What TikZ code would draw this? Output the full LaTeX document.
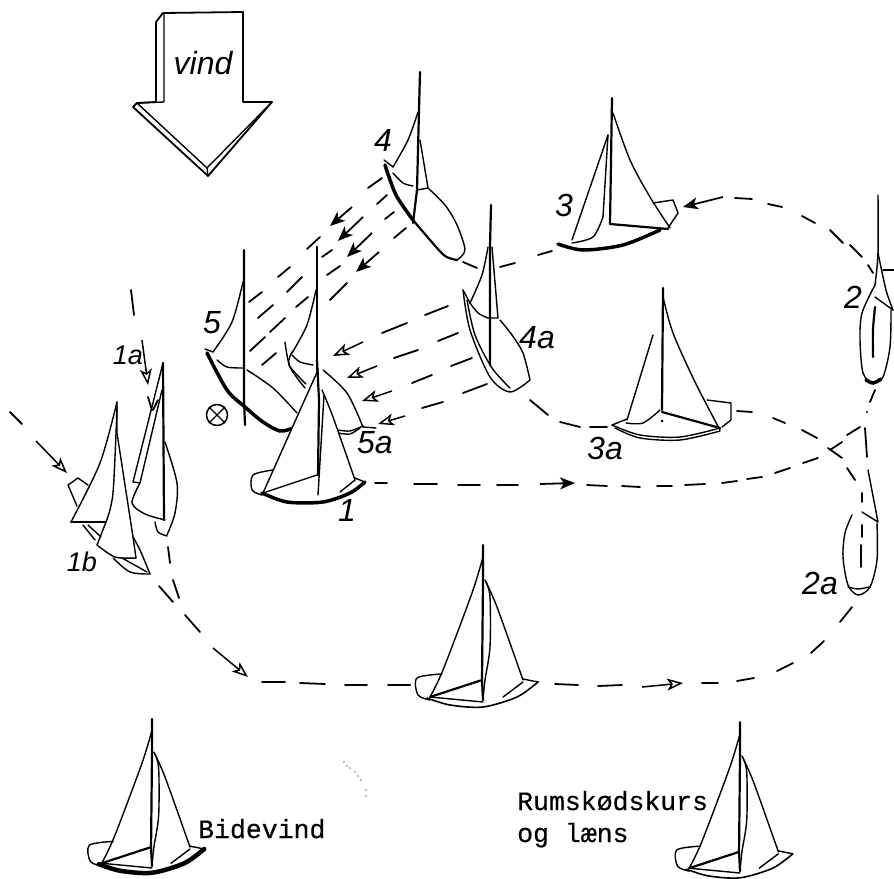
\documentclass[tikz,border=0pt]{standalone}
\usepackage{fontspec}
\usetikzlibrary{arrows.meta}
\newfontfamily\labelfont{Liberation Sans}
\newfontfamily\typefont[FakeBold=0.4]{Liberation Mono}
\tikzset{
  sailline/.style={line width=1.4pt, line join=round, line cap=round},
  hullline/.style={line width=3.5pt, line cap=round},
  mastline/.style={line width=2.2pt, line cap=round},
  dashline/.style={line width=1.8pt, line cap=round},
  windarrow/.style={line width=1.8pt, -{Stealth[length=15pt,width=12pt,inset=4pt]}},
  openarrow/.style={line width=1.5pt, -{Stealth[open,fill=white,length=16pt,width=12pt,inset=4pt]}},
  boatlabel/.style={font=\labelfont\itshape\fontsize{32}{32}\selectfont, inner sep=0pt},
  smalllabel/.style={font=\labelfont\itshape\fontsize{27}{27}\selectfont, inner sep=0pt},
  typelabel/.style={font=\typefont\fontsize{26.5}{26.5}\selectfont, inner sep=0pt, anchor=base west}
}
\begin{document}
\begin{tikzpicture}[x=1pt,y=-1pt]
  \useasboundingbox (0,0) rectangle (894,878);
  % the wind arrow
  \draw[line width=1.8pt, line join=round] (163,13) -- (243,12) -- (243,102) -- (272,102) -- (208,176)
    -- (133,107) -- (137,103) -- (156,102) -- (156,22) -- cycle;
  \draw[sailline] (164,14) -- (164,102) -- (137,103) -- (207,168) -- (272,102);
  \draw[sailline] (207,168) -- (208,176);
  \node[boatlabel] (vind) at (203,63) {vind};
  % the course, piece by piece
  \foreach \xa/\ya/\xb/\yb in {
    382/178/368/188, 320/237/307/249, 290/267/278/277, 262/292/249/302,
    387/195/377/204, 332/250/322/257, 302/277/287/292, 273/305/258/318,
    394/212/385/219, 340/266/327/275, 308/297/296/307, 285/318/270/332, 265/337/250/351,
    406/228/394/238, 347/283/330/300, 276/353/262/365,
    448/306/425/315, 407/323/382/333,
    458/333/438/341, 418/350/394/358,
    472/358/451/366, 432/375/412/383,
    487/384/463/393, 443/402/422/408,
    463/262/477/268, 500/267/515/263, 538/255/552/251,
    735/198/752/199, 768/204/782/207, 802/216/815/223, 830/230/843/243, 850/245/862/257, 868/265/873/273,
    530/400/548/415, 560/422/580/427, 590/427/607/427,
    737/411/752/412, 773/418/785/423, 802/430/817/438, 828/448/842/458, 847/468/855/480,
    862/493/862/502, 862/525/862/537, 861/545/861/567, 865/428/867/457,
    375/483/387/483, 414/484/437/484, 458/485/480/485, 497/485/518/485,
    587/485/607/486, 622/486/640/487, 657/486/672/486, 685/485/705/484, 722/483/737/481,
    747/479/762/477, 775/473/790/468, 803/463/818/458, 830/450/842/442, 847/435/860/427, 870/402/875/390,
    852/607/840/622, 824/641/811/653, 793/663/777/671, 754/678/737/681, 718/683/702/683,
    622/685/598/686, 578/685/555/684, 410/685/400/685,
    262/682/285/682, 300/683/325/684, 345/685/367/685, 388/685/410/685,
    10/412/22/424, 131/290/134/315, 148/397/152/410, 153/410/158/400,
    168/547/170/563, 173/580/179/598, 159/586/173/602, 185/615/200/632}
  \draw[dashline] (\xa,\ya) -- (\xb,\yb);
  \fill (867,412) circle (1.2);
  % arrows on the course
  \foreach \xa/\ya/\xb/\yb in {352/207/330/226, 363/217/338/241, 372/233/347/257, 379/252/356/272,
    723/197/683/207, 540/484/575/483}
  \draw[windarrow] (\xa,\ya) -- (\xb,\yb);
  \foreach \xa/\ya/\xb/\yb in {363/342/333/356, 377/366/347/378, 392/391/362/401, 405/416/378/424,
    36/441/67/473, 142/340/148/385, 213/648/248/677, 642/687/683/683}
  \draw[openarrow] (\xa,\ya) -- (\xb,\yb);
  % boat 4
  \draw[mastline] (420,72) -- (419,110) -- (417,190) -- (413,223);
  \draw[sailline] plot[smooth] coordinates {(418,112) (408,140) (393,167)};
  \draw[sailline] (384,160) -- (393,167);
  \draw[sailline] plot[smooth] coordinates {(393,173) (403,183) (413,186)};
  \draw[sailline] (420,140) -- (428,188) -- (417,190);
  \draw[hullline] plot[smooth] coordinates {(385,165) (396,195) (413,220)};
  \draw[mastline] plot[smooth] coordinates {(413,220) (430,240) (445,256) (457,260)};
  \draw[sailline] plot[smooth] coordinates {(457,260) (465,250) (457,225) (445,205) (428,188)};
  \node[boatlabel] (nfour) at (383,140) {4};
  % boat 4a
  \draw[mastline] (491,205) -- (490,247) -- (490,365);
  \draw[sailline] plot[smooth] coordinates {(488,247) (482,275) (470,303)};
  \draw[sailline] (463,290) -- (470,303);
  \draw[sailline] plot[smooth] coordinates {(470,303) (478,313) (488,318)};
  \draw[sailline] (492,247) -- (498,318) -- (488,318);
  \draw[sailline] plot[smooth] coordinates {(463,290) (470,330) (490,377) (510,392) (530,380)};
  \draw[sailline] plot[smooth] coordinates {(467,300) (475,335) (492,368) (510,388)};
  \draw[sailline] plot[smooth] coordinates {(530,380) (523,353) (512,335) (500,320)};
  \node[boatlabel] (nfoura) at (537,338) {4a};
  % boat 5
  \draw[mastline] (244,250) -- (244,400) -- (245,425);
  \draw[sailline] plot[smooth] coordinates {(243,282) (232,322) (213,352)};
  \draw[sailline] (205,349) -- (213,352);
  \draw[sailline] plot[smooth] coordinates {(217,360) (227,367) (243,368)};
  \draw[hullline] plot[smooth] coordinates {(207,353) (227,390) (245,407) (263,422) (280,431) (293,428)};
  \draw[sailline] plot[smooth] coordinates {(247,370) (273,388) (297,413)};
  \node[boatlabel] (nfive) at (212,323) {5};
  \node[circle, draw, line width=1.5pt, minimum size=21pt, inner sep=0pt] (windsign) at (217,415) {};
  \draw[sailline] (windsign.45) -- (windsign.225);
  \draw[sailline] (windsign.135) -- (windsign.315);
  % boat 5a
  \draw[mastline] (317,247) -- (317,370);
  \draw[sailline] plot[smooth] coordinates {(316,290) (307,325) (292,353)};
  \draw[sailline] plot[smooth] coordinates {(285,342) (290,367) (305,388)};
  \draw[sailline] plot[smooth] coordinates {(292,352) (289,365) (306,384)};
  \draw[sailline] plot[smooth] coordinates {(292,355) (300,362) (313,365)};
  \draw[sailline] plot[smooth] coordinates {(323,370) (347,393) (363,427)};
  \draw[sailline] plot[smooth] coordinates {(338,433) (350,434) (360,428)};
  \draw[sailline] plot[smooth] coordinates {(338,430) (350,431) (363,426)};
  \draw[sailline] (363,427) -- (376,428);
  \node[boatlabel] (nfivea) at (375,443) {5a};
  % boat 1
  \fill[white] (318,370) -- (263,493) -- (355,480) -- (333,417) -- cycle;
  \draw[mastline] (317,360) -- (319,400) -- (318,475);
  \draw[sailline] (318,370) -- (263,493) -- (317,475);
  \draw[sailline] plot[smooth] coordinates {(322,390) (333,417) (355,480)};
  \draw[sailline] (324,395) -- (318,495);
  \draw[sailline] (355,480) -- (340,492);
  \draw[sailline] (355,478) -- (365,482);
  \draw[sailline] plot[smooth] coordinates {(273,470) (253,475) (252,490) (262,495)};
  \draw[hullline] plot[smooth] coordinates {(262,493) (287,502) (323,502) (350,493) (365,482)};
  \node[boatlabel] (none) at (347,510) {1};
  % boat 3
  \fill[white] (608,135) -- (572,240) -- (668,229) -- (630,160) -- (613,113) -- cycle;
  \draw[mastline] (612,98) -- (610,224);
  \draw[sailline] (608,135) -- (572,240);
  \draw[sailline] plot[smooth] coordinates {(613,113) (630,160) (650,197) (670,228)};
  \draw[mastline] (610,224) -- (668,229);
  \draw[sailline] plot[smooth] coordinates {(572,243) (593,237) (603,217)};
  \draw[sailline] (603,217) -- (608,135);
  \draw[sailline] (653,203) -- (673,200) -- (678,213) -- (668,228);
  \draw[hullline] plot[smooth] coordinates {(558,244) (583,250) (623,245) (660,230)};
  \node[boatlabel] (nthree) at (564,205) {3};
  % boat 2
  \draw[sailline] plot[smooth] coordinates {(878,195) (878,253) (875,285)};
  \draw[sailline] plot[smooth] coordinates {(878,253) (886,290) (893,310)};
  \draw[sailline] (883,270) -- (894,270);
  \draw[sailline] (875,297) -- (893,310);
  \draw[sailline] plot[smooth] coordinates {(875,285) (862,313) (860,340) (863,373) (873,383) (883,377) (890,347) (891,310)};
  \draw[hullline] plot[smooth] coordinates {(866,380) (873,383) (881,379)};
  \draw[mastline] plot[smooth] coordinates {(875,307) (873,330) (873,357)};
  \node[boatlabel] (ntwo) at (853,297) {2};
  % boat 3a
  \draw[mastline] (663,288) -- (662,410);
  \draw[sailline] (653,335) -- (627,420);
  \draw[sailline] plot[smooth] coordinates {(663,297) (673,333) (695,382) (720,430)};
  \draw[mastline] (662,412) -- (720,428);
  \draw[sailline] plot[smooth] coordinates {(626,423) (643,423) (660,410)};
  \draw[sailline] plot[smooth] coordinates {(612,425) (640,435) (680,437) (720,428)};
  \draw[sailline] plot[smooth] coordinates {(615,428) (640,438) (680,440) (720,431)};
  \draw[sailline] (612,425) -- (627,419);
  \draw[sailline] (707,400) -- (731,403) -- (731,420) -- (722,427);
  \fill (662,421) circle (1.5);
  \node[boatlabel] (nthreea) at (605,448) {3a};
  % boat 2a
  \draw[sailline] (868,470) -- (878,522) -- (862,512);
  \draw[sailline] plot[smooth] coordinates {(852,515) (845,533) (843,557) (848,585) (858,595) (870,587) (877,560) (877,523)};
  \draw[sailline] plot[smooth] coordinates {(848,587) (858,589) (869,587)};
  \node[boatlabel] (ntwoa) at (820,583) {2a};
  % boat 1a
  \draw[sailline] (163,363) -- (133,482) -- (140,483) -- (162,390);
  \draw[mastline] (163,363) -- (164,520);
  \draw[sailline] plot[smooth] coordinates {(140,483) (132,503) (145,514) (165,520)};
  \draw[sailline] plot[smooth] coordinates {(165,442) (177,483) (175,513) (167,535)};
  \draw[sailline] plot[smooth] coordinates {(155,522) (158,532) (167,536)};
  \node[smalllabel] (nonea) at (128,355) {1a};
  % boat 1b
  \fill[white] (117,405) -- (71,522) -- (106,522) -- (97,545) -- (136,558) -- cycle;
  \draw[sailline] plot[smooth] coordinates {(117,402) (100,463) (71,522)};
  \draw[mastline] (71,522) -- (106,522);
  \draw[sailline] plot[smooth] coordinates {(117,407) (113,493) (106,522)};
  \draw[sailline] (117,402) -- (117,433) -- (133,537) -- (136,558);
  \draw[sailline] (106,522) -- (97,545);
  \draw[sailline] plot[smooth] coordinates {(97,545) (115,557) (136,558)};
  \draw[sailline] (77,506) -- (68,485) -- (78,478) -- (88,485);
  \draw[sailline] (83,525) -- (95,540);
  \draw[sailline] (88,525) -- (101,537);
  \draw[sailline] plot[smooth] coordinates {(113,558) (130,572) (150,574)};
  \draw[sailline] plot[smooth] coordinates {(150,574) (140,550) (133,537)};
  \draw[sailline] (122,558) -- (147,572);
  \node[smalllabel] (noneb) at (82,562) {1b};
  % the three boats drawn alike
  \foreach \bx/\by/\bs/\hw in {483/702/1/1.6pt, 152/868/0.95/4.5pt, 740/873/0.96/1.6pt}{
  \begin{scope}[shift={(\bx,\by)}, scale=\bs]
    \draw[mastline] (0,-157) -- (0,-122) -- (-1,-22) -- (0,-2);
    \draw[sailline] plot[smooth] coordinates {(0,-145) (-11,-109) (-40,-32) (-53,-5)};
    \draw[sailline] plot[smooth] coordinates {(2,-122) (14,-95) (40,-22)};
    \draw[sailline] plot[smooth] coordinates {(3,-120) (7,-105) (7,-55) (2,-22) (0,-2)};
    \draw[mastline] (-53,-5) -- (-1,-22);
    \draw[sailline] (-53,-5) -- (0,0);
    \draw[sailline] (40,-20) -- (20,-5);
    \draw[line width=\hw, line cap=round] plot[smooth] coordinates {(-56,-4) (-33,3) (0,5) (34,-5) (55,-20)};
    \draw[sailline] (55,-20) -- (40,-23);
    \draw[sailline] plot[smooth] coordinates {(-41,-28) (-66,-24) (-65,-7) (-53,-2)};
  \end{scope}}
  \node[typelabel] (bidevind) at (198,838) {Bidevind};
  \node[typelabel] (rumskod) at (517,810) {Rumskødskurs};
  \node[typelabel] (laens) at (517,842) {og læns};
  % specks on the paper
  \foreach \sx/\sy in {344/762, 347/766, 350/768, 355/772, 358/776, 361/780, 366/790, 366/796}
  \fill[black!55] (\sx,\sy) circle (0.8);
\end{tikzpicture}
\end{document}
